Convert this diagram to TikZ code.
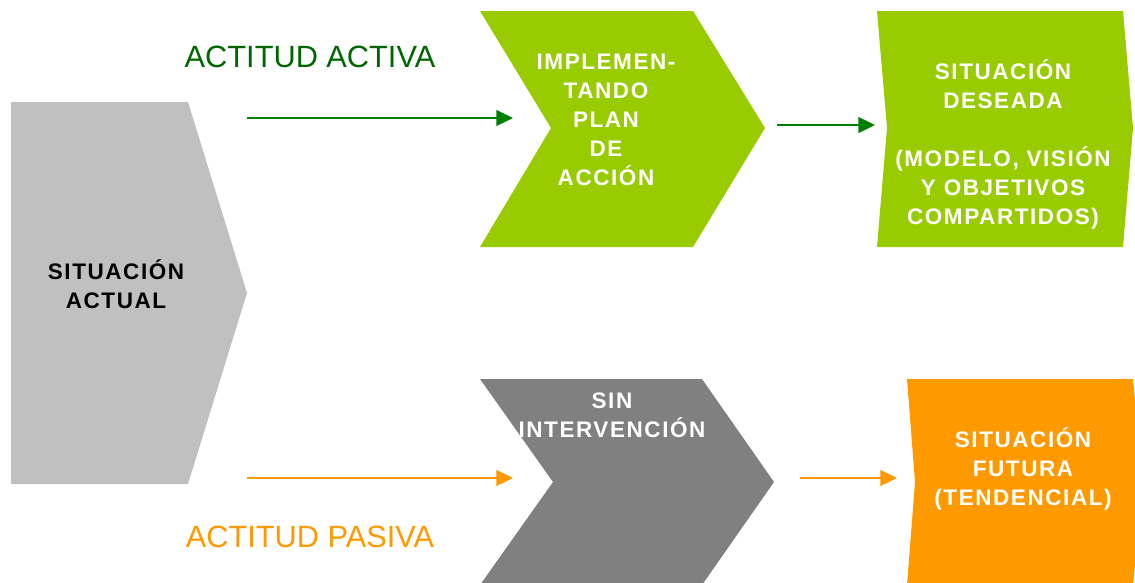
\documentclass[tikz,border=0pt]{standalone}
\usepackage{fontspec}
\setmainfont{Liberation Sans}
\newfontfamily\boxfont[LetterSpace=7]{Liberation Sans}
\usetikzlibrary{arrows.meta}
\definecolor{cActual}{RGB}{192,192,192}
\definecolor{cVerde}{RGB}{153,204,0}
\definecolor{cGris}{RGB}{128,128,128}
\definecolor{cNaranja}{RGB}{255,153,0}
\definecolor{cFlecha}{RGB}{0,128,0}
\definecolor{cActiva}{RGB}{0,102,0}

\begin{document}
\begin{tikzpicture}[x=0.02cm, y=-0.02cm,
  txt/.style={align=center, inner sep=0pt,
    font=\boxfont\bfseries\fontsize{12.8}{16.5}\selectfont, text=white},
  lbl/.style={inner sep=0pt, font=\fontsize{17.5}{20}\selectfont},
  ar/.style={-{Triangle[length=9.5pt, width=9pt]}, line width=1.1pt}]
\useasboundingbox (0,0) rectangle (1135,582);
\clip (0,0) rectangle (1135,582);

\fill[cActual] (11,102) -- (188,102) -- (247,293) -- (188,484) -- (11,484) -- cycle;
\fill[cVerde] (480,11) -- (693,11) -- (765,128) -- (693,247) -- (480,247) -- (551,128) -- cycle;
\fill[cVerde] (877,11) -- (1123,11) -- (1133,128) -- (1123,247) -- (877,247) -- (887,128) -- cycle;
\fill[cGris] (480,379) -- (702,379) -- (774,482) -- (702,585) -- (480,585) -- (553,482) -- cycle;
\fill[cNaranja] (907,379) -- (1133,379) -- (1143,482) -- (1133,585) -- (907,585) -- (915,482) -- cycle;

\node[txt, text=black] (actual) at (116,284) {SITUACIÓN\\ACTUAL};
\node[txt] (plan) at (606,120) {IMPLEMEN-\\TANDO\\PLAN\\DE\\ACCIÓN};
\node[txt] (deseada) at (1003,144) {SITUACIÓN\\DESEADA\\[16.5pt](MODELO, VISIÓN\\Y OBJETIVOS\\COMPARTIDOS)};
\node[txt] (sin) at (612,415) {SIN\\INTERVENCIÓN};
\node[txt] (futura) at (1023,469) {SITUACIÓN\\FUTURA\\(TENDENCIAL)};

\node[lbl, text=cActiva] (activa) at (310,57) {ACTITUD ACTIVA};
\node[lbl, text=cNaranja] (pasiva) at (310,537) {ACTITUD PASIVA};

\coordinate (a1) at (247,118);
\coordinate (b1) at (513,118);
\coordinate (a2) at (777,125);
\coordinate (b2) at (875,125);
\coordinate (a3) at (247,478);
\coordinate (b3) at (513,478);
\coordinate (a4) at (800,478);
\coordinate (b4) at (897,478);
\draw[ar, cFlecha] (a1) -- (b1);
\draw[ar, cFlecha] (a2) -- (b2);
\draw[ar, cNaranja] (a3) -- (b3);
\draw[ar, cNaranja] (a4) -- (b4);
\end{tikzpicture}
\end{document}
